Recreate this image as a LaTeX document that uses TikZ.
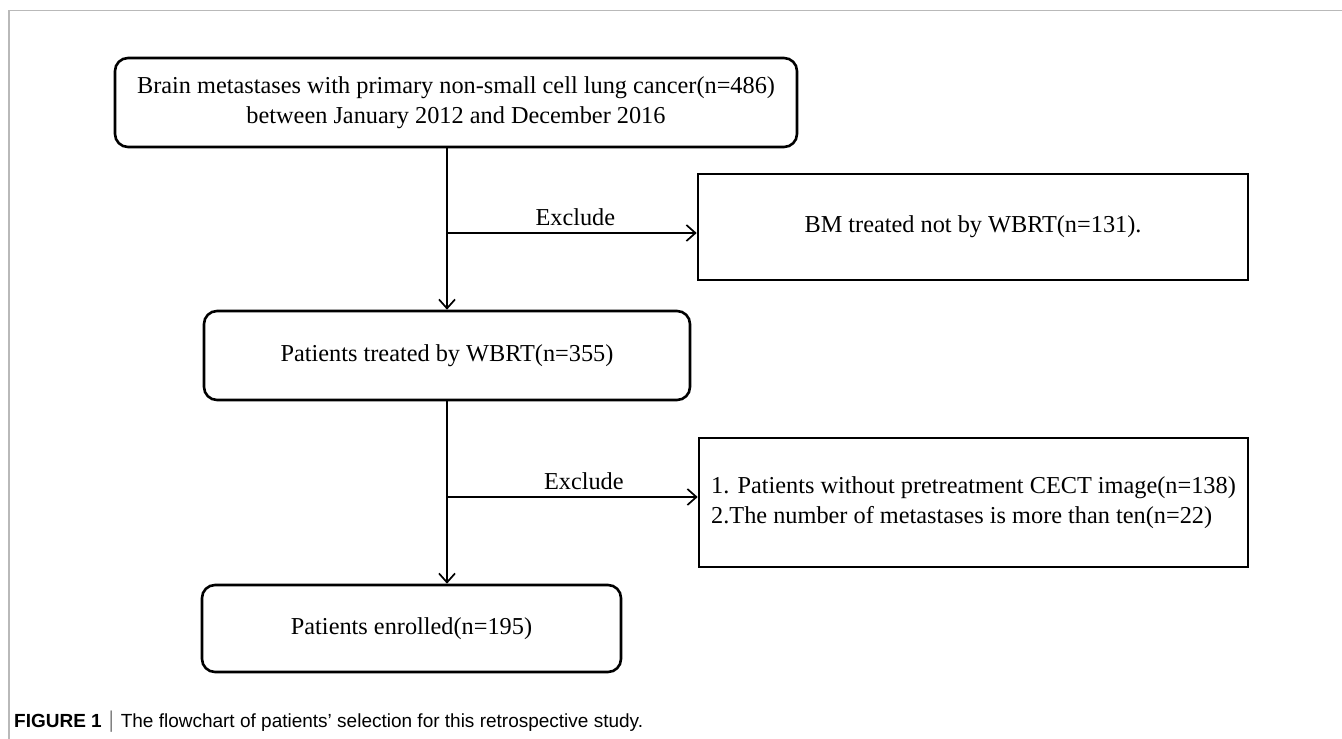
\documentclass[tikz,border=0pt]{standalone}
\usepackage{fontspec}
\setmainfont{Liberation Serif}
\setsansfont{Liberation Sans}
\usetikzlibrary{arrows.meta}
\definecolor{framegray}{RGB}{185,185,185}

\begin{document}
\begin{tikzpicture}[x=1pt,y=-1pt,
  every node/.style={font=\fontsize{24.3}{30.5}\selectfont},
  roundbox/.style={draw,line width=2.6pt,rounded corners=13pt,align=center,inner sep=0pt},
  sqbox/.style={draw,line width=2.6pt,align=center,inner sep=0pt},
  flow/.style={line width=1.7pt,-{Straight Barb[length=9pt,width=16pt,line width=1.7pt]}}]
  \useasboundingbox (0,0) rectangle (1342,739);
  \draw[framegray,line width=1.6pt] (9,739) -- (9,10.5) -- (1342,10.5);
  \node[roundbox,minimum width=682pt,minimum height=89pt] (brain) at (456,102.5)
    {Brain metastases with primary non-small cell lung cancer(n=486)\\between January 2012 and December 2016};
  \node[sqbox,minimum width=550pt,minimum height=106pt] (bmwbrt) at (973,227) {BM treated not by WBRT(n=131).};
  \node[roundbox,minimum width=486pt,minimum height=89pt] (treated) at (447,355.5) {Patients treated by WBRT(n=355)};
  \node[sqbox,minimum width=549pt,minimum height=129pt,align=left] (excl) at (973.5,502.5)
    {1. Patients without pretreatment CECT image(n=138)\\2.The number of metastases is more than ten(n=22)};
  \node[roundbox,minimum width=419pt,minimum height=87pt] (enrolled) at (411.5,628.5) {Patients enrolled(n=195)};
  \coordinate (j1) at (446,233);
  \coordinate (j2) at (446,497);
  \draw[flow] (brain.south -| treated.north) -- (treated.north);
  \draw[flow] (j1) -- node[above=3pt,xshift=4pt] (ex1) {Exclude} (j1 -| bmwbrt.west);
  \draw[flow] (treated.south) -- (enrolled.north -| treated.south);
  \draw[flow] (j2) -- node[above=3pt,xshift=12pt] (ex2) {Exclude} (j2 -| excl.west);
  \node[anchor=west,inner sep=0pt,font=\sffamily\fontsize{19}{22}\selectfont] (cap) at (14,722)
    {\textbf{FIGURE 1}\hspace{7pt}\textcolor{gray}{\scalebox{1}[1.2]{|}}\hspace{7pt}The flowchart of patients’ selection for this retrospective study.};
\end{tikzpicture}
\end{document}
